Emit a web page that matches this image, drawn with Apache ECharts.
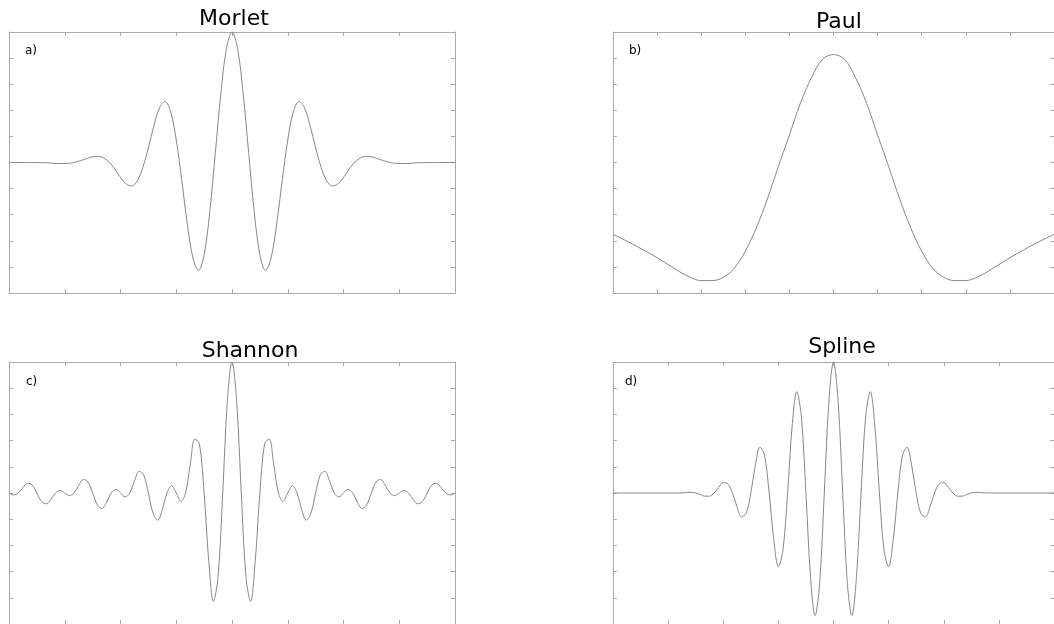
<!DOCTYPE html>
<html>
<head>
<meta charset="utf-8">
<script src="https://cdn.jsdelivr.net/npm/echarts@6/dist/echarts.min.js"></script>
<style>
html,body{margin:0;padding:0;background:#fff;}
#chart{width:1054px;height:624px;}
</style>
</head>
<body>
<div id="chart"></div>
<script>
// ---- data ----
const titles = ['Morlet', 'Paul', 'Shannon', 'Spline'];
const panelLabels = ['a)', 'b)', 'c)', 'd)'];

const morlet = [
[-4.0,0],[-3.9,0],[-3.8,0],[-3.7,0],[-3.6,0],[-3.5,0],[-3.4,-0.001],[-3.3,-0.003],[-3.2,-0.006],[-3.1,-0.008],
[-3.0,-0.008],[-2.9,-0.005],[-2.8,0.003],[-2.7,0.016],[-2.6,0.031],[-2.5,0.044],[-2.4,0.047],[-2.3,0.034],[-2.2,0.000],[-2.1,-0.052],
[-2.0,-0.114],[-1.9,-0.164],[-1.8,-0.180],[-1.7,-0.142],[-1.6,-0.040],[-1.5,0.113],[-1.4,0.283],[-1.3,0.420],[-1.2,0.467],[-1.1,0.387],
[-1.0,0.172],[-0.9,-0.141],[-0.8,-0.475],[-0.7,-0.733],[-0.6,-0.827],[-0.5,-0.707],[-0.4,-0.384],[-0.3,0.068],[-0.2,0.530],[-0.1,0.873],
[0,1.000],
[0.1,0.873],[0.2,0.530],[0.3,0.068],[0.4,-0.384],[0.5,-0.707],[0.6,-0.827],[0.7,-0.733],[0.8,-0.475],[0.9,-0.141],[1.0,0.172],
[1.1,0.387],[1.2,0.467],[1.3,0.420],[1.4,0.283],[1.5,0.113],[1.6,-0.040],[1.7,-0.142],[1.8,-0.180],[1.9,-0.164],[2.0,-0.114],
[2.1,-0.052],[2.2,0.000],[2.3,0.034],[2.4,0.047],[2.5,0.044],[2.6,0.031],[2.7,0.016],[2.8,0.003],[2.9,-0.005],[3.0,-0.008],
[3.1,-0.008],[3.2,-0.006],[3.3,-0.003],[3.4,-0.001],[3.5,0],[3.6,0],[3.7,0],[3.8,0],[3.9,0],[4.0,0]
];

const paul = [
[-5,-0.55],[-4.5,-0.635],[-4,-0.73],[-3.5,-0.835],[-3.25,-0.88],[-3,-0.905],[-2.75,-0.905],[-2.5,-0.88],[-2.25,-0.81],
[-2,-0.68],[-1.75,-0.50],[-1.5,-0.28],[-1.25,-0.03],[-1,0.21],[-0.75,0.455],[-0.5,0.65],[-0.25,0.79],
[0,0.827],
[0.25,0.79],[0.5,0.65],[0.75,0.455],[1,0.21],[1.25,-0.03],[1.5,-0.28],[1.75,-0.50],[2,-0.68],
[2.25,-0.81],[2.5,-0.88],[2.75,-0.905],[3,-0.905],[3.25,-0.88],[3.5,-0.835],[4,-0.73],[4.5,-0.635],[5,-0.55]
];

const shannon = [
[-8,0],[-7.833,-0.015],[-7.667,0],[-7.5,0.042],[-7.333,0.075],[-7.167,0.061],[-7,0],[-6.833,-0.064],[-6.667,-0.083],[-6.5,-0.049],
[-6.333,0],[-6.167,0.019],[-6,0],[-5.833,-0.020],[-5.667,0],[-5.5,0.058],[-5.333,0.103],[-5.167,0.084],[-5,0],[-4.833,-0.090],
[-4.667,-0.118],[-4.5,-0.071],[-4.333,0],[-4.167,0.028],[-4,0],[-3.833,-0.030],[-3.667,0],[-3.5,0.091],[-3.333,0.165],[-3.167,0.137],
[-3,0],[-2.833,-0.153],[-2.667,-0.207],[-2.5,-0.127],[-2.333,0],[-2.167,0.054],[-2,0],[-1.833,-0.064],[-1.667,0],[-1.5,0.212],
[-1.333,0.413],[-1.167,0.373],[-1,0],[-0.833,-0.522],[-0.667,-0.827],[-0.5,-0.637],[-0.333,0],[-0.167,0.699],
[0,1.000],
[0.167,0.699],[0.333,0],[0.5,-0.637],[0.667,-0.827],[0.833,-0.522],[1,0],[1.167,0.373],[1.333,0.413],[1.5,0.212],
[1.667,0],[1.833,-0.064],[2,0],[2.167,0.054],[2.333,0],[2.5,-0.127],[2.667,-0.207],[2.833,-0.153],[3,0],
[3.167,0.137],[3.333,0.165],[3.5,0.091],[3.667,0],[3.833,-0.030],[4,0],[4.167,0.028],[4.333,0],[4.5,-0.071],
[4.667,-0.118],[4.833,-0.090],[5,0],[5.167,0.084],[5.333,0.103],[5.5,0.058],[5.667,0],[5.833,-0.020],[6,0],
[6.167,0.019],[6.333,0],[6.5,-0.049],[6.667,-0.083],[6.833,-0.064],[7,0],[7.167,0.061],[7.333,0.075],[7.5,0.042],
[7.667,0],[7.833,-0.015],[8,0]
];

const spline = [
[-4,0],[-3.5,0],[-3,0],[-2.917,0],[-2.833,0],[-2.75,0.001],[-2.667,0.003],[-2.583,0.005],[-2.5,0],[-2.417,-0.012],
[-2.333,-0.024],[-2.25,-0.024],[-2.167,0],[-2.083,0.043],[-2,0.079],[-1.917,0.070],[-1.833,0],[-1.75,-0.107],[-1.667,-0.182],
[-1.583,-0.154],[-1.5,0],[-1.417,0.213],[-1.333,0.350],[-1.25,0.283],[-1.167,0],[-1.083,-0.359],[-1,-0.562],[-0.917,-0.436],
[-0.833,0],[-0.75,0.512],[-0.667,0.774],[-0.583,0.580],[-0.5,0],[-0.417,-0.638],[-0.333,-0.935],[-0.25,-0.681],[-0.167,0],
[-0.083,0.704],
[0,1.000],
[0.083,0.704],[0.167,0],[0.25,-0.681],[0.333,-0.935],[0.417,-0.638],[0.5,0],[0.583,0.580],[0.667,0.774],[0.75,0.512],
[0.833,0],[0.917,-0.436],[1,-0.562],[1.083,-0.359],[1.167,0],[1.25,0.283],[1.333,0.350],[1.417,0.213],[1.5,0],
[1.583,-0.154],[1.667,-0.182],[1.75,-0.107],[1.833,0],[1.917,0.070],[2,0.079],[2.083,0.043],[2.167,0],[2.25,-0.024],
[2.333,-0.024],[2.417,-0.012],[2.5,0],[2.583,0.005],[2.667,0.003],[2.75,0.001],[2.833,0],[2.917,0],[3,0],[3.5,0],[4,0]
];

// x-axis ranges per panel (value units), y is shared
const xRanges = [[-4, 4, 1], [-5, 5, 1], [-8, 8, 2], [-4, 4, 1]];
const yRange = [-1, 1, 0.2];
const seriesData = [morlet, paul, shannon, spline];

// ---- layout / style ----
const grids = [
  {left: 9, top: 32, width: 446, height: 261},
  {left: 613, top: 32, width: 448, height: 261},
  {left: 9, top: 362, width: 446, height: 262},
  {left: 613, top: 362, width: 448, height: 262}
];
const titlePos = [[234, 8], [839, 11], [250, 340], [842, 336]];
const labelPos = [[25, 45], [629, 45], [26, 376], [625, 376]];

const frameColor = '#aaaaaa';
const curveColor = '#878787';

const xAxes = [], yAxes = [], series = [], graphics = [];
grids.forEach((g, i) => {
  const [xmin, xmax, xint] = xRanges[i];
  ['bottom', 'top'].forEach(pos => {
    xAxes.push({
      gridIndex: i, type: 'value', position: pos, min: xmin, max: xmax, interval: xint,
      axisLine: {show: true, onZero: false, lineStyle: {color: frameColor, width: 1}},
      axisTick: {show: true, inside: true, length: 4, lineStyle: {color: frameColor}},
      axisLabel: {show: false}, splitLine: {show: false}
    });
  });
  ['left', 'right'].forEach(pos => {
    yAxes.push({
      gridIndex: i, type: 'value', position: pos, min: yRange[0], max: yRange[1], interval: yRange[2],
      axisLine: {show: true, onZero: false, lineStyle: {color: frameColor, width: 1}},
      axisTick: {show: true, inside: true, length: 4, lineStyle: {color: frameColor}},
      axisLabel: {show: false}, splitLine: {show: false}
    });
  });
  series.push({
    type: 'line', xAxisIndex: 2 * i, yAxisIndex: 2 * i, data: seriesData[i],
    showSymbol: false, smooth: 0.35, animation: false,
    lineStyle: {color: curveColor, width: 1}
  });
  graphics.push({
    type: 'text', x: titlePos[i][0], y: titlePos[i][1],
    style: {text: titles[i], font: '22px "DejaVu Sans"', fill: '#000', textAlign: 'center', textVerticalAlign: 'top'}
  });
  graphics.push({
    type: 'text', x: labelPos[i][0], y: labelPos[i][1],
    style: {text: panelLabels[i], font: '12px "DejaVu Sans"', fill: '#000', textAlign: 'left', textVerticalAlign: 'top'}
  });
});

const chart = echarts.init(document.getElementById('chart'), null, {renderer: 'canvas'});
chart.setOption({
  animation: false,
  backgroundColor: '#ffffff',
  grid: grids.map(g => Object.assign({containLabel: false}, g)),
  xAxis: xAxes,
  yAxis: yAxes,
  series: series,
  graphic: graphics
});
</script>
</body>
</html>
